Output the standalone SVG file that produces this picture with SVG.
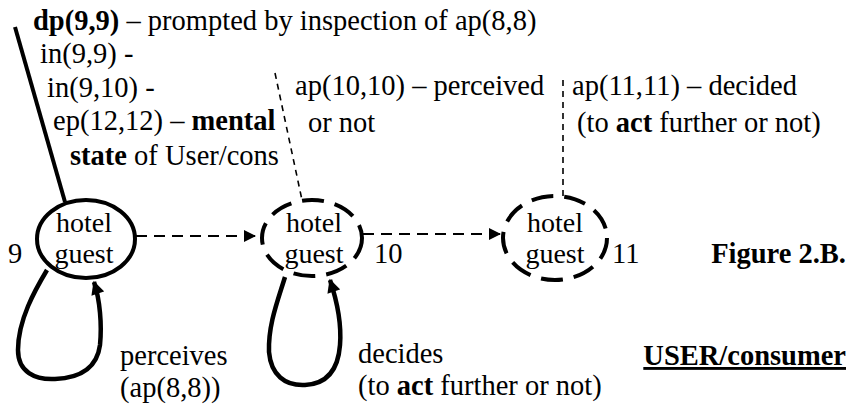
<svg xmlns="http://www.w3.org/2000/svg" width="853" height="404" viewBox="0 0 853 404">
<style>
text{font-family:"Liberation Serif","DejaVu Serif",serif;font-size:28.5px;fill:#000}
.n{font-size:28px}
.b{font-weight:bold}
.node{fill:none;stroke:#000;stroke-width:4}
.dn{stroke-dasharray:22 11}
.conn{fill:none;stroke:#000;stroke-width:2;stroke-dasharray:11 7}
.thin{fill:none;stroke:#000;stroke-width:1.6;stroke-dasharray:6 5}
.loop{fill:none;stroke:#000;stroke-width:4.5;stroke-linejoin:round}
</style>
<defs>
<marker id="ah" viewBox="0 0 10 10" refX="10" refY="5" markerWidth="7" markerHeight="6" markerUnits="strokeWidth" orient="auto">
<path d="M0,0 L10,5 L0,10 Z" fill="#000"/>
</marker>
<marker id="lh" viewBox="0 0 10 10" refX="9" refY="5" markerWidth="3.4" markerHeight="3" markerUnits="strokeWidth" orient="auto">
<path d="M0,0 L10,5 L0,10 Z" fill="#000"/>
</marker>
</defs>

<g id="connectors">
<line x1="15" y1="27" x2="65" y2="202" stroke="#000" stroke-width="4"/>
<line class="thin" x1="275" y1="73" x2="302" y2="200"/>
<line class="thin" x1="563" y1="80" x2="563" y2="197"/>
<line class="conn" x1="136" y1="236" x2="256" y2="236" marker-end="url(#ah)"/>
<line class="conn" x1="363" y1="234" x2="501" y2="234" marker-end="url(#ah)"/>
<path class="loop" d="M47,270 C35,290 18,320 18,350 C18,372 35,380 55,379 C80,378 97,368 100,345 C102,325 100,300 94,282" marker-end="url(#lh)"/>
<path class="loop" d="M285,277 C278,300 268,325 269,352 C271,375 285,386 305,385 C325,384 338,372 340,345 C342,320 336,298 330,280" marker-end="url(#lh)"/>
</g>

<g id="node9">
<ellipse class="node" cx="86" cy="239" rx="49" ry="39"/>
<text class="n" x="84" y="232" text-anchor="middle">hotel</text>
<text class="n" x="84" y="263" text-anchor="middle">guest</text>
<text x="8" y="263">9</text>
</g>
<g id="node10">
<ellipse class="node dn" cx="312" cy="238" rx="50" ry="38"/>
<text class="n" x="314" y="232" text-anchor="middle">hotel</text>
<text class="n" x="314" y="263" text-anchor="middle">guest</text>
<text x="374" y="263">10</text>
</g>
<g id="node11">
<ellipse class="node dn" cx="555" cy="238" rx="52" ry="42"/>
<text class="n" x="555" y="232" text-anchor="middle">hotel</text>
<text class="n" x="555" y="263" text-anchor="middle">guest</text>
<text x="612" y="263">11</text>
</g>

<g id="labels">
<text x="33" y="30"><tspan class="b">dp(9,9)</tspan> – prompted by inspection of ap(8,8)</text>
<text x="40" y="63">in(9,9) -</text>
<text x="47" y="97">in(9,10) -</text>
<text x="53" y="130">ep(12,12) – <tspan class="b">mental</tspan></text>
<text x="70" y="165"><tspan class="b">state</tspan> of User/cons</text>
<text x="295" y="95">ap(10,10) – perceived</text>
<text x="308" y="132">or not</text>
<text x="572" y="95">ap(11,11) – decided</text>
<text x="577" y="132">(to <tspan class="b">act</tspan> further or not)</text>
<text x="120" y="365">perceives</text>
<text x="120" y="397">(ap(8,8))</text>
<text x="358" y="363">decides</text>
<text x="358" y="395">(to <tspan class="b">act</tspan> further or not)</text>
<text class="b" x="846" y="263" text-anchor="end">Figure 2.B.</text>
<text class="b" x="846" y="365" text-anchor="end" text-decoration="underline">USER/consumer</text>
</g>
</svg>
